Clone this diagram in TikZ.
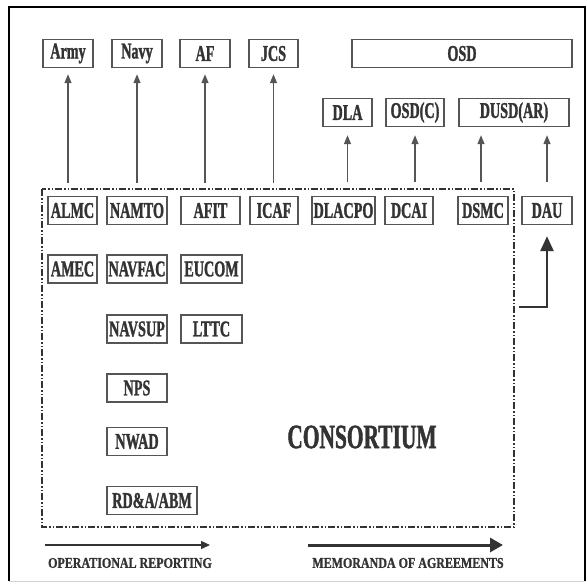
\documentclass[tikz,border=0pt]{standalone}
\usepackage{fontspec}
\newfontfamily\boxfont{Liberation Serif Bold}[FakeStretch=0.63,FakeBold=1.3]
\newfontfamily\legfont{Liberation Serif Bold}[FakeStretch=0.8,FakeBold=1]
\usetikzlibrary{arrows.meta}
\definecolor{ink}{HTML}{333333}
\definecolor{edge}{HTML}{555555}
\begin{document}
\begin{tikzpicture}[x=1pt, y=-1pt,
  box/.style={draw=edge, line width=1.4pt, text=ink, inner sep=0pt,
    minimum height=28pt, font=\boxfont\fontsize{22.5}{22.5}\selectfont},
  up/.style={-{Triangle[length=9pt,width=7pt]}, draw=edge, line width=1.3pt,
    shorten <=13pt, shorten >=6pt},
  up2/.style={-{Triangle[length=9pt,width=7pt]}, draw=edge, line width=1.3pt,
    shorten <=14pt, shorten >=8pt},
  border/.style={line width=2.3pt, draw=ink,
    dash pattern=on 7pt off 2pt on 1.5pt off 2pt on 1.5pt off 2pt}]
\useasboundingbox (0,0) rectangle (587,582);
\draw[line width=2.5pt] (9,581)--(9,7)--(585,7)--(585,581);
\draw[gray!35, line width=1pt] (9,581)--(585,581);

% parent organisations
\node[box, minimum width=50pt] (army) at (68,53.5) {Army};
\node[box, minimum width=50pt] (navy) at (137,53.5) {Navy};
\node[box, minimum width=50pt] (af) at (205,53.5) {AF};
\node[box, minimum width=49pt] (jcs) at (273.5,53.5) {JCS};
\node[box, minimum width=220pt] (osd) at (462,53.5) {OSD};
\node[box, minimum width=49pt] (dla) at (347.5,112.5) {DLA};
\node[box, minimum width=58pt] (osdc) at (415,112.5) {OSD(C)};
\node[box, minimum width=110pt] (dusd) at (514,112.5) {DUSD(AR)};

% consortium members
\node[box, minimum width=49pt] (almc) at (72.5,210.5) {ALMC};
\node[box, minimum width=60pt] (namto) at (137,210.5) {NAMTO};
\node[box, minimum width=59pt] (afit) at (210.5,210.5) {AFIT};
\node[box, minimum width=48pt] (icaf) at (274,210.5) {ICAF};
\node[box, minimum width=63pt] (dlacpo) at (343.5,210.5) {DLACPO};
\node[box, minimum width=48pt] (dcai) at (409,210.5) {DCAI};
\node[box, minimum width=50pt] (dsmc) at (483,210.5) {DSMC};
\node[box, minimum width=50pt] (dau) at (547,210.5) {DAU};
\node[box, minimum width=49pt] (amec) at (72.5,269) {AMEC};
\node[box, minimum width=60pt] (navfac) at (137,269) {NAVFAC};
\node[box, minimum width=61pt] (eucom) at (211.5,269) {EUCOM};
\node[box, minimum width=60pt] (navsup) at (137,329) {NAVSUP};
\node[box, minimum width=61pt] (lttc) at (211.5,329) {LTTC};
\node[box, minimum width=60pt] (nps) at (137,388) {NPS};
\node[box, minimum width=60pt] (nwad) at (137,441.5) {NWAD};
\node[box, minimum width=90pt] (rda) at (152,500.5) {RD\&A/ABM};
\node[text=ink, font=\boxfont\fontsize{34}{34}\selectfont] (cons) at (362,437) {CONSORTIUM};

\draw[border] (42,189) rectangle (514,527);

% reporting lines
\draw[up] (army.south |- almc.north) -- (army.south);
\draw[up] (navy.south |- namto.north) -- (navy.south);
\draw[up] (af.south |- afit.north) -- (af.south);
\draw[up] (jcs.south |- icaf.north) -- (jcs.south);
\draw[up2] (dla.south |- dlacpo.north) -- (dla.south);
\draw[up2] (osdc.south |- dcai.north) -- (osdc.south);
\draw[up2] (dsmc.north -| 481,0) -- (dusd.south -| 481,0);
\draw[up2] (dau.north) -- (dau.north |- dusd.south);

% agreement with DAU
\coordinate (moa) at (519,307);
\draw[-{Triangle[length=15pt,width=13pt]}, draw=ink, line width=2.6pt,
  shorten >=11pt] (moa) -| (dau.south);

% legend
\node[text=ink, font=\legfont\fontsize{15}{15}\selectfont] (oprep) at (130,563) {OPERATIONAL REPORTING};
\node[text=ink, font=\legfont\fontsize{15}{15}\selectfont] (memo) at (408,563) {MEMORANDA OF AGREEMENTS};
\draw[-{Triangle[length=9pt,width=8pt]}, draw=ink, line width=1.4pt] (45,545) -- (210,545);
\draw[-{Triangle[length=13pt,width=14pt]}, draw=ink, line width=3pt] (308,545) -- (503,545);
\end{tikzpicture}
\end{document}
